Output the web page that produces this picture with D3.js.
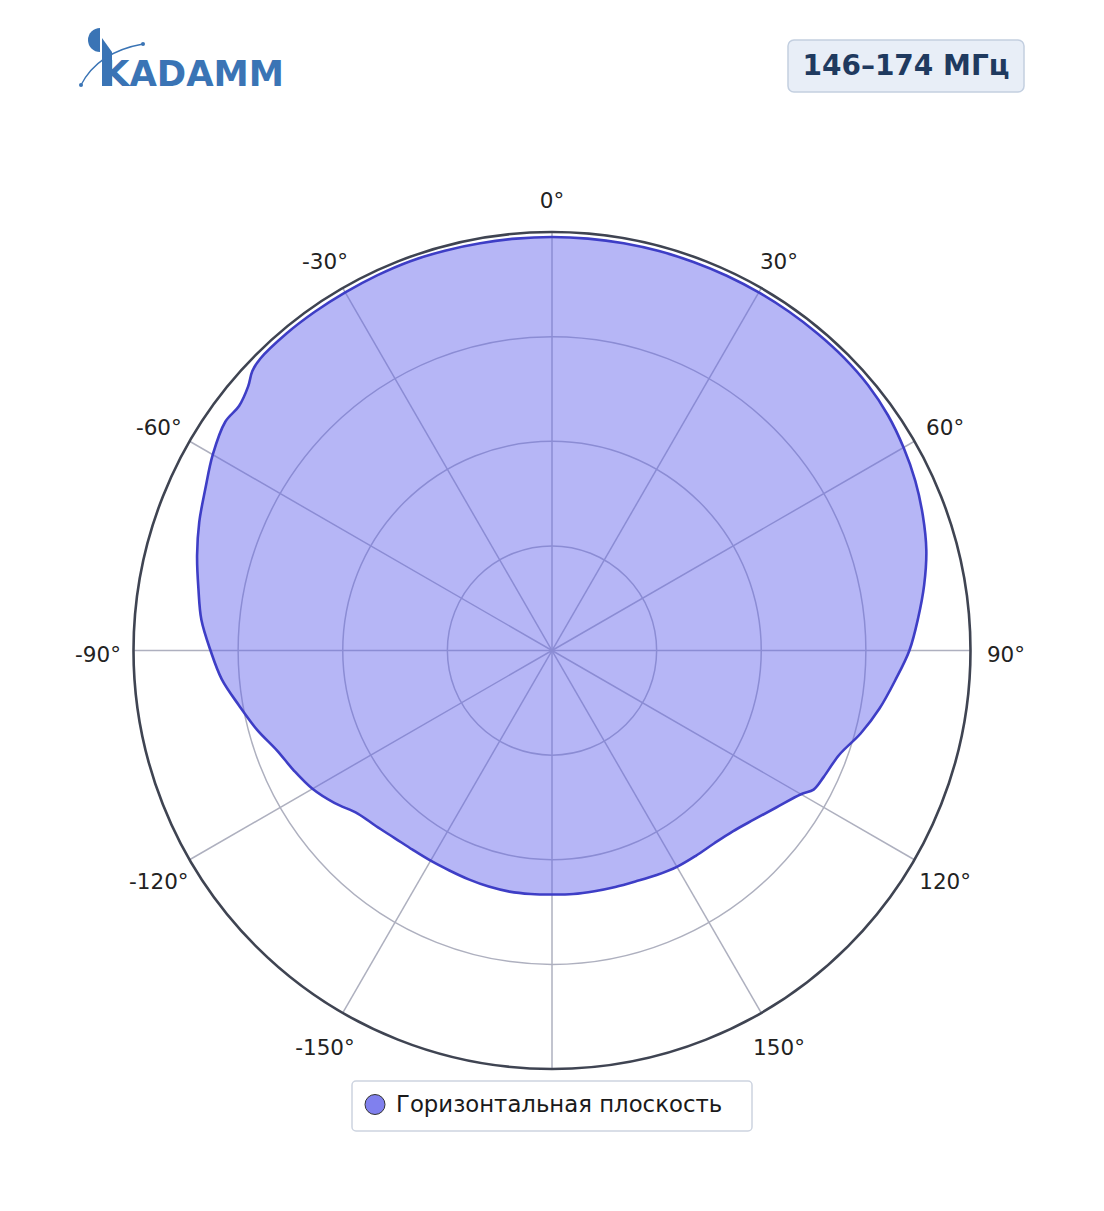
<!DOCTYPE html>
<html>
<head>
<meta charset="utf-8">
<script src="https://cdn.jsdelivr.net/npm/d3@7"></script>
<style>
  html, body { margin: 0; padding: 0; background: #ffffff; }
  svg { display: block; }
  text { font-family: "DejaVu Sans", sans-serif; }
</style>
</head>
<body>
<div id="chart"></div>
<script>
// ---- Data ----
const seriesName = "Горизонтальная плоскость";
const bandLabel = "146–174 МГц";
const angles = [0, 5, 10, 15, 20, 25, 30, 35, 40, 45, 50, 55, 60, 65, 70, 75, 80, 85, 90,
  95, 100, 105, 110, 115, 118, 120, 125, 130, 135, 140, 145, 150, 155, 160, 165, 170, 175, 180,
  185, 190, 195, 200, 205, 210, 215, 220, 225, 230, 235, 240, 245, 250, 255, 260, 265, 270,
  275, 280, 285, 290, 295, 300, 305, 308, 311, 313, 315, 320, 325, 330, 335, 340, 345, 350, 355];
const gain = [0.988, 0.988, 0.988, 0.988, 0.988, 0.988, 0.988, 0.988, 0.988, 0.988, 0.986, 0.980, 0.970, 0.958, 0.943, 0.926, 0.903, 0.878, 0.854,
  0.823, 0.795, 0.764, 0.730, 0.716, 0.708, 0.687, 0.654, 0.629, 0.611, 0.602, 0.599, 0.597, 0.592, 0.587, 0.585, 0.584, 0.584, 0.583,
  0.584, 0.585, 0.584, 0.582, 0.580, 0.580, 0.581, 0.585, 0.594, 0.606, 0.635, 0.661, 0.680, 0.699, 0.730, 0.759, 0.792, 0.816,
  0.841, 0.858, 0.878, 0.897, 0.914, 0.936, 0.953, 0.949, 0.962, 0.979, 0.986, 0.988, 0.988, 0.988, 0.989, 0.990, 0.989, 0.988, 0.988];
const ringValues = [0.25, 0.5, 0.75];
const spokeAngles = [0, 30, 60, 90, 120, 150, 180, 210, 240, 270, 300, 330];
const angleLabels = ["0°", "30°", "60°", "90°", "120°", "150°", null, "-150°", "-120°", "-90°", "-60°", "-30°"];

// ---- Layout ----
const W = 1104, H = 1211;
const cx = 552, cy = 650.5, R = 418.5;

const svg = d3.select("#chart").append("svg").attr("width", W).attr("height", H);

const r = d3.scaleLinear().domain([0, 1]).range([0, R]);
const toRad = d => d * Math.PI / 180;

const g = svg.append("g").attr("transform", `translate(${cx},${cy})`);

// grid rings
g.selectAll("circle.ring").data(ringValues).join("circle")
  .attr("class", "ring").attr("r", d => r(d))
  .attr("fill", "none").attr("stroke", "#aeb0bf").attr("stroke-width", 1.5);

// spokes
g.selectAll("line.spoke").data(spokeAngles).join("line")
  .attr("class", "spoke")
  .attr("x1", 0).attr("y1", 0)
  .attr("x2", d => r(1) * Math.sin(toRad(d)))
  .attr("y2", d => -r(1) * Math.cos(toRad(d)))
  .attr("stroke", "#aeb0bf").attr("stroke-width", 1.5);

// data area
const pts = angles.map((a, i) => ({ a: a, v: gain[i] }));
const radial = d3.lineRadial()
  .angle(d => toRad(d.a))
  .radius(d => r(d.v))
  .curve(d3.curveCatmullRomClosed.alpha(0.5));

g.append("path").datum(pts)
  .attr("d", radial)
  .attr("fill", "rgba(100,100,236,0.47)")
  .attr("stroke", "#3e3ec6").attr("stroke-width", 2.6)
  .attr("stroke-linejoin", "round");

// outer circle
g.append("circle").attr("r", R).attr("fill", "none")
  .attr("stroke", "#3f4452").attr("stroke-width", 2.6);

// angular labels
const labelData = spokeAngles.map((a, i) => ({ a: a, t: angleLabels[i] })).filter(d => d.t);
const labelDist = R + 35.5;
g.selectAll("text.alab").data(labelData).join("text")
  .attr("class", "alab")
  .attr("font-size", 21.5).attr("fill", "#222")
  .attr("text-anchor", "middle")
  .attr("dy", "0.36em")
  .attr("x", d => labelDist * Math.sin(toRad(d.a)))
  .attr("y", d => 4 - labelDist * Math.cos(toRad(d.a)))
  .text(d => d.t);

// legend
const leg = svg.append("g");
leg.append("rect").attr("x", 352).attr("y", 1081).attr("width", 400).attr("height", 50)
  .attr("rx", 4).attr("fill", "#fff").attr("stroke", "#cdd4e0").attr("stroke-width", 1.5);
leg.append("circle").attr("cx", 375).attr("cy", 1104.5).attr("r", 10)
  .attr("fill", "#8080ee").attr("stroke", "#333").attr("stroke-width", 1);
leg.append("text").attr("x", 396).attr("y", 1112).attr("font-size", 22.8).attr("fill", "#1a1a1a")
  .text(seriesName);

// title badge
const badge = svg.append("g");
badge.append("rect").attr("x", 788).attr("y", 40).attr("width", 236).attr("height", 52)
  .attr("rx", 6).attr("fill", "#e8eef7").attr("stroke", "#c3cfe0").attr("stroke-width", 1.5);
badge.append("text").attr("x", 906).attr("y", 75).attr("text-anchor", "middle")
  .attr("font-size", 28).attr("font-weight", "bold").attr("fill", "#1f3a5f")
  .text(bandLabel);

// logo
const logo = svg.append("g");
const blue = "#3a74b5";
logo.append("path").attr("d", "M100,28 A12,12 0 0 0 100,52 Z").attr("fill", blue);
logo.append("path").attr("d", "M102,38 L112,52 L112,86 L102,86 Z").attr("fill", blue);
logo.append("text").attr("x", 102).attr("y", 86).attr("font-size", 36).attr("font-weight", "bold")
  .attr("fill", blue).attr("textLength", 182).attr("lengthAdjust", "spacingAndGlyphs")
  .attr("font-family", "DejaVu Sans, sans-serif")
  .text("KADAMM");
logo.append("path").attr("d", "M81,85 Q98,52 143,44").attr("fill", "none")
  .attr("stroke", blue).attr("stroke-width", 1.3);
logo.append("circle").attr("cx", 81).attr("cy", 85).attr("r", 2).attr("fill", blue);
logo.append("circle").attr("cx", 143).attr("cy", 44).attr("r", 2).attr("fill", blue);
</script>
</body>
</html>
